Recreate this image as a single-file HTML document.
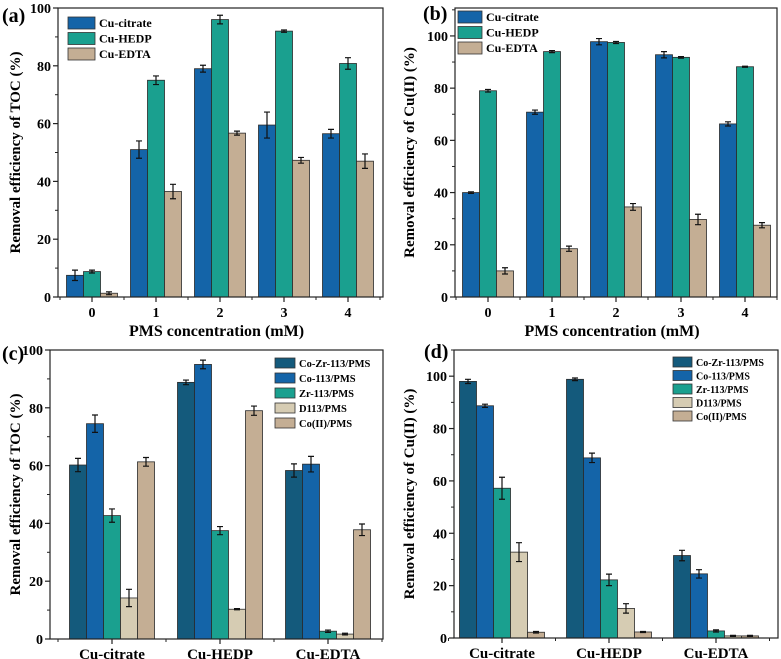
<!DOCTYPE html>
<html><head><meta charset="utf-8"><style>
html,body{margin:0;padding:0;background:#fff;}
svg{display:block;}
svg text{font-family:"Liberation Serif","DejaVu Serif",serif;font-weight:bold;}
</style></head><body>
<svg id="fig" width="781" height="659" viewBox="0 0 781 659" xmlns="http://www.w3.org/2000/svg"></svg>
<script>
// Panel (a)
const aCats = ["0","1","2","3","4"];
const aSeries = ["Cu-citrate","Cu-HEDP","Cu-EDTA"];
const aCitrate = [7.5,51,79,59.5,56.5];
const aCitrateErr = [1.8,3,1.2,4.5,1.5];
const aHEDP = [8.8,75,96,92,80.8];
const aHEDPErr = [0.5,1.5,1.5,0.4,2];
const aEDTA = [1.3,36.5,56.7,47.3,47];
const aEDTAErr = [0.5,2.5,0.7,1,2.5];
// Panel (b)
const bCitrate = [40,70.8,97.8,92.8,66.3];
const bCitrateErr = [0.3,0.8,1.2,1.2,0.8];
const bHEDP = [79,94,97.5,91.8,88.2];
const bHEDPErr = [0.5,0.4,0.4,0.3,0.2];
const bEDTA = [10,18.5,34.5,29.7,27.5];
const bEDTAErr = [1.2,1,1.3,2,1];
// Panels (c),(d)
const cdCats = ["Cu-citrate","Cu-HEDP","Cu-EDTA"];
const cdSeries = ["Co-Zr-113/PMS","Co-113/PMS","Zr-113/PMS","D113/PMS","Co(II)/PMS"];
const cCoZr = [60.2,88.8,58.3], cCoZrErr = [2.3,0.8,2.3];
const cCo = [74.5,95,60.5], cCoErr = [3,1.5,2.7];
const cZr = [42.7,37.5,2.7], cZrErr = [2.3,1.4,0.4];
const cD = [14.2,10.3,1.7], cDErr = [3,0.2,0.3];
const cCoII = [61.3,79,37.8], cCoIIErr = [1.5,1.6,2];
const dCoZr = [98,98.8,31.5], dCoZrErr = [0.8,0.5,2];
const dCo = [88.7,68.8,24.5], dCoErr = [0.6,1.8,1.6];
const dZr = [57.2,22.2,2.7], dZrErr = [4.2,2.2,0.4];
const dD = [32.8,11.3,0.8], dDErr = [3.6,1.8,0.2];
const dCoII = [2.2,2.3,0.8], dCoIIErr = [0.3,0.2,0.2];
const yTicks = [0,20,40,60,80,100];

const NS="http://www.w3.org/2000/svg";
const svg=document.getElementById('fig');
function el(tag,attrs,parent,text){const e=document.createElementNS(NS,tag);for(const k in attrs)e.setAttribute(k,attrs[k]);if(tag==='text'){e.setAttribute('font-family','Liberation Serif, serif');e.setAttribute('font-weight','bold');}if(text!==undefined)e.textContent=text;(parent||svg).appendChild(e);return e;}

function panel(o){
  const g=el('g',{});
  
  
  const y=v=>o.y0-(v/o.yMax)*(o.y0-o.yTop);
  const step=(o.cx[1]-o.cx[0]);
  const n=o.series.length, bw=o.bw;
  o.series.forEach((s,si)=>{
    s.vals.forEach((v,ci)=>{
      const xc=o.cx[ci]+(si-(n-1)/2)*bw;
      const r=el('rect',{x:xc-bw/2,y:y(v),width:bw,height:o.y0-y(v),fill:s.color,stroke:'#2a2a2a','stroke-width':0.8},g);
      
      
      const e=s.err[ci];
      const eg=el('path',{d:`M${xc},${y(v+e)}V${y(v-e)}M${xc-3},${y(v+e)}H${xc+3}M${xc-3},${y(v-e)}H${xc+3}`,stroke:'#111','stroke-width':1.2,fill:'none'},g);
      
      
    });
  });
  const fr=el('rect',{x:o.xl,y:o.yTop,width:o.xr-o.xl,height:o.y0-o.yTop,fill:'none',stroke:'#222','stroke-width':1.2},g);
  
  
  yTicks.forEach(t=>{
    el('line',{x1:o.xl-5,x2:o.xl,y1:y(t),y2:y(t),stroke:'#222','stroke-width':1.2},g);
    if(t+10<=o.yMax+0.01) el('line',{x1:o.xl-3,x2:o.xl,y1:y(t+10),y2:y(t+10),stroke:'#222','stroke-width':1},g);
    const tl=el('text',{x:o.xl-7,y:y(t)+5,'text-anchor':'end','font-size':14},g,String(t));
    
    
  });
  o.cats.forEach((c,ci)=>{
    el('line',{x1:o.cx[ci],x2:o.cx[ci],y1:o.y0,y2:o.y0+5,stroke:'#222','stroke-width':1.2},g);
    el('line',{x1:o.cx[ci]+step/2,x2:o.cx[ci]+step/2,y1:o.y0,y2:o.y0+3,stroke:'#222','stroke-width':1},g);
    if(ci==0) el('line',{x1:o.cx[ci]-step/2,x2:o.cx[ci]-step/2,y1:o.y0,y2:o.y0+3,stroke:'#222','stroke-width':1},g);
    const tl=el('text',{x:o.cx[ci],y:o.y0+20,'text-anchor':'middle','font-size':o.xfs},g,c);
    
    
  });
  const yc=(o.yTop+o.y0)/2;
  const yt=el('text',{x:o.ytx,y:yc,'text-anchor':'middle','font-size':15,transform:`rotate(-90 ${o.ytx} ${yc})`},g,o.ytitle);
  
  
  if(o.xtitle){
    const xt=el('text',{x:(o.xl+o.xr)/2-4,y:o.y0+39,'text-anchor':'middle','font-size':16},g,o.xtitle);
    
    
  }
  const pl=el('text',{x:o.plx,y:o.ply,'font-size':20},g,o.label);
  
  
  o.series.forEach((s,si)=>{
    const ly=o.legY+si*o.legS;
    const lg=el('g',{},g);
    
    
    el('rect',{x:o.legX,y:ly-o.legH/2,width:o.legW,height:o.legH,fill:s.color,stroke:'#333','stroke-width':0.8},lg);
    el('text',{x:o.legX+o.legW+4,y:ly+4,'font-size':o.legFs},lg,s.name);
  });
}
const C1='#1464a8',C2='#1aa08f',C3='#c4ae94',C0='#145a7c',C4='#d6ccb3';
panel({id:'a',xl:58,xr:383,yTop:8,y0:297,yMax:100,cx:[92,156,220,284,348],bw:17,cats:aCats,
  series:[{name:aSeries[0],vals:aCitrate,err:aCitrateErr,color:C1},{name:aSeries[1],vals:aHEDP,err:aHEDPErr,color:C2},{name:aSeries[2],vals:aEDTA,err:aEDTAErr,color:C3}],
  ytitle:'Removal efficiency of TOC (%)',ytx:20,xtitle:'PMS concentration (mM)',label:'(a)',plx:2,ply:22,
  legX:68,legY:23,legS:15.5,legW:27,legH:12,legFs:12,xfs:14});
panel({id:'b',xl:455,xr:777,yTop:8,y0:297,yMax:110.7,cx:[488,552,616,681,745],bw:17,cats:aCats,
  series:[{name:aSeries[0],vals:bCitrate,err:bCitrateErr,color:C1},{name:aSeries[1],vals:bHEDP,err:bHEDPErr,color:C2},{name:aSeries[2],vals:bEDTA,err:bEDTAErr,color:C3}],
  ytitle:'Removal efficiency of Cu(II) (%)',ytx:414,xtitle:'PMS concentration (mM)',label:'(b)',plx:423,ply:20,
  legX:458,legY:17,legS:15.5,legW:24,legH:12,legFs:12,xfs:14});
panel({id:'c',xl:50,xr:383,yTop:350,y0:639,yMax:100,cx:[112,220,328],bw:17,cats:cdCats,
  series:[{name:cdSeries[0],vals:cCoZr,err:cCoZrErr,color:C0},{name:cdSeries[1],vals:cCo,err:cCoErr,color:C1},{name:cdSeries[2],vals:cZr,err:cZrErr,color:C2},{name:cdSeries[3],vals:cD,err:cDErr,color:C4},{name:cdSeries[4],vals:cCoII,err:cCoIIErr,color:C3}],
  ytitle:'Removal efficiency of TOC (%)',ytx:20,label:'(c)',plx:2,ply:360,
  legX:275,legY:363,legS:15,legW:20,legH:10,legFs:10.5,xfs:15});
panel({id:'d',xl:454,xr:778,yTop:350,y0:638,yMax:110,cx:[502,609,716],bw:17,cats:cdCats,
  series:[{name:cdSeries[0],vals:dCoZr,err:dCoZrErr,color:C0},{name:cdSeries[1],vals:dCo,err:dCoErr,color:C1},{name:cdSeries[2],vals:dZr,err:dZrErr,color:C2},{name:cdSeries[3],vals:dD,err:dDErr,color:C4},{name:cdSeries[4],vals:dCoII,err:dCoIIErr,color:C3}],
  ytitle:'Removal efficiency of Cu(II) (%)',ytx:414,label:'(d)',plx:424,ply:358,
  legX:673,legY:362,legS:13.5,legW:19,legH:10,legFs:10,xfs:15});
</script>
</body></html>
